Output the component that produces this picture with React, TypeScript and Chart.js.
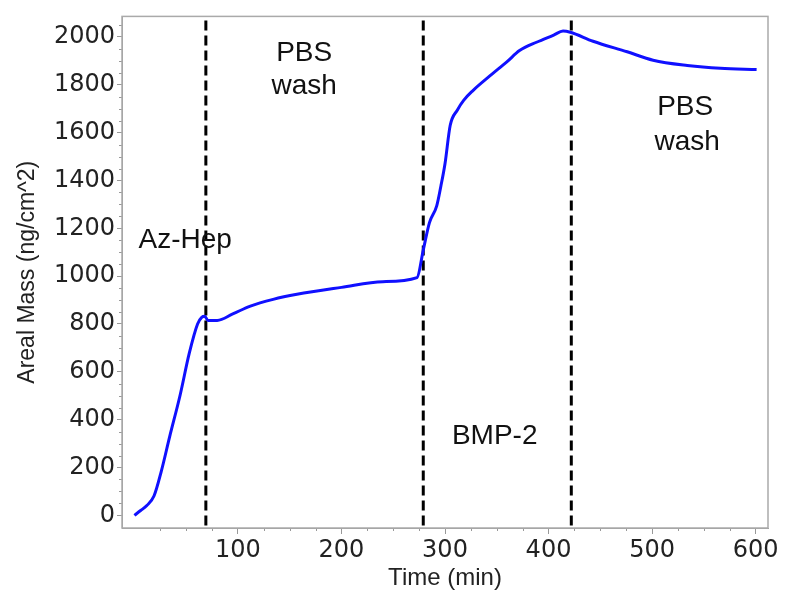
import React, { useEffect, useRef } from "react";
import { Chart, registerables } from "chart.js";

Chart.register(...registerables);

const timeMin = [0, 6, 12, 19, 26, 34, 44, 53, 61, 65, 68, 71, 80, 95, 112, 134, 157, 200, 240, 273, 279, 285, 292, 296, 300, 305, 312, 318, 327, 343, 360, 372, 389, 405, 414, 421, 443, 476, 501, 534, 566, 601];
const arealMass = [0, 20, 41, 82, 185, 328, 500, 678, 800, 828, 832, 815, 815, 842, 875, 903, 924, 953, 977, 994, 1109, 1224, 1294, 1376, 1470, 1630, 1695, 1735, 1776, 1836, 1897, 1943, 1979, 2008, 2025, 2020, 1982, 1938, 1903, 1881, 1869, 1864];
const phaseBoundaries = [69, 279, 422];
const xTickValues = [100, 200, 300, 400, 500, 600];
const yTickValues = [0, 200, 400, 600, 800, 1000, 1200, 1400, 1600, 1800, 2000];
const phaseLabels = [
  { text: "Az-Hep", x: 49, y: 1150 },
  { text: "PBS", x: 164, y: 1930 },
  { text: "wash", x: 164, y: 1795 },
  { text: "BMP-2", x: 348, y: 329 },
  { text: "PBS", x: 532, y: 1704 },
  { text: "wash", x: 534, y: 1561 },
];

const decorPlugin = {
  id: "decor",
  beforeDatasetsDraw(chart: any) {
    const { ctx, chartArea, scales } = chart;
    const xs = scales.x;
    const ys = scales.y;
    ctx.save();
    ctx.strokeStyle = "#999";
    ctx.lineWidth = 1;
    for (let v = 0; v <= 612; v += 25) {
      if (v % 100 === 0) continue;
      const px = Math.round(xs.getPixelForValue(v)) + 0.5;
      if (px < chartArea.left || px > chartArea.right) continue;
      ctx.beginPath();
      ctx.moveTo(px, chartArea.bottom);
      ctx.lineTo(px, chartArea.bottom + 3);
      ctx.stroke();
    }
    for (let v = 0; v <= 2080; v += 50) {
      if (v % 200 === 0) continue;
      const py = Math.round(ys.getPixelForValue(v)) + 0.5;
      if (py < chartArea.top || py > chartArea.bottom) continue;
      ctx.beginPath();
      ctx.moveTo(chartArea.left - 3, py);
      ctx.lineTo(chartArea.left, py);
      ctx.stroke();
    }
    ctx.strokeStyle = "#aaa";
    ctx.lineWidth = 1.5;
    ctx.strokeRect(chartArea.left, chartArea.top, chartArea.right - chartArea.left, chartArea.bottom - chartArea.top);
    ctx.strokeStyle = "#000";
    ctx.lineWidth = 3;
    ctx.setLineDash([10, 5]);
    for (const b of phaseBoundaries) {
      const px = xs.getPixelForValue(b);
      ctx.beginPath();
      ctx.moveTo(px, chartArea.top + 4);
      ctx.lineTo(px, chartArea.bottom);
      ctx.stroke();
    }
    ctx.setLineDash([]);
    ctx.fillStyle = "#111";
    ctx.font = "28px 'Liberation Sans', Arial, sans-serif";
    ctx.textAlign = "center";
    ctx.textBaseline = "middle";
    for (const l of phaseLabels) {
      ctx.fillText(l.text, xs.getPixelForValue(l.x), ys.getPixelForValue(l.y));
    }
    ctx.restore();
  },
};

export default function App() {
  const ref = useRef<HTMLCanvasElement | null>(null);
  useEffect(() => {
    if (!ref.current) return;
    const chart = new Chart(ref.current, {
      type: "line",
      data: {
        datasets: [
          {
            data: timeMin.map((t, i) => ({ x: t, y: arealMass[i] })),
            borderColor: "#1010ff",
            borderWidth: 3,
            pointRadius: 0,
            tension: 0.3,
            cubicInterpolationMode: "monotone",
            fill: false,
          },
        ],
      },
      options: {
        animation: false,
        responsive: false,
        layout: { padding: { top: 7, right: 20, left: 0, bottom: 0 } },
        plugins: { legend: { display: false }, tooltip: { enabled: false } },
        scales: {
          x: {
            type: "linear",
            min: -12,
            max: 612,
            afterBuildTicks: (s: any) => {
              s.ticks = xTickValues.map((v) => ({ value: v }));
            },
            afterFit: (s: any) => {
              s.height = 74;
            },
            grid: { drawOnChartArea: false, drawTicks: true, tickLength: 6, color: "#999" },
            border: { color: "#999", width: 1 },
            ticks: {
              color: "#222",
              font: { family: "'DejaVu Sans', Verdana, sans-serif", size: 24 },
              padding: 2,
              maxRotation: 0,
              callback: (v: any) => String(v),
            },
            title: {
              display: true,
              text: "Time (min)",
              color: "#222",
              font: { family: "'Liberation Sans', Arial, sans-serif", size: 24 },
              padding: { top: 0, bottom: 9 },
            },
          },
          y: {
            type: "linear",
            min: -53,
            max: 2086,
            afterBuildTicks: (s: any) => {
              s.ticks = yTickValues.map((v) => ({ value: v }));
            },
            afterFit: (s: any) => {
              s.width = 122;
            },
            grid: { drawOnChartArea: false, drawTicks: true, tickLength: 5, color: "#999" },
            border: { color: "#999", width: 1 },
            ticks: {
              color: "#222",
              font: { family: "'DejaVu Sans', Verdana, sans-serif", size: 24 },
              padding: 2,
              callback: (v: any) => String(v),
            },
            title: {
              display: true,
              text: "Areal Mass (ng/cm^2)",
              color: "#222",
              font: { family: "'Liberation Sans', Arial, sans-serif", size: 23 },
              padding: { top: 14, bottom: 6 },
            },
          },
        },
      },
      plugins: [decorPlugin],
    });
    return () => chart.destroy();
  }, []);
  return (
    <div style={{ position: "absolute", left: 0, top: 0, width: 788, height: 602, background: "#fff" }}>
      <canvas ref={ref} width={788} height={602} style={{ width: 788, height: 602 }} />
    </div>
  );
}
